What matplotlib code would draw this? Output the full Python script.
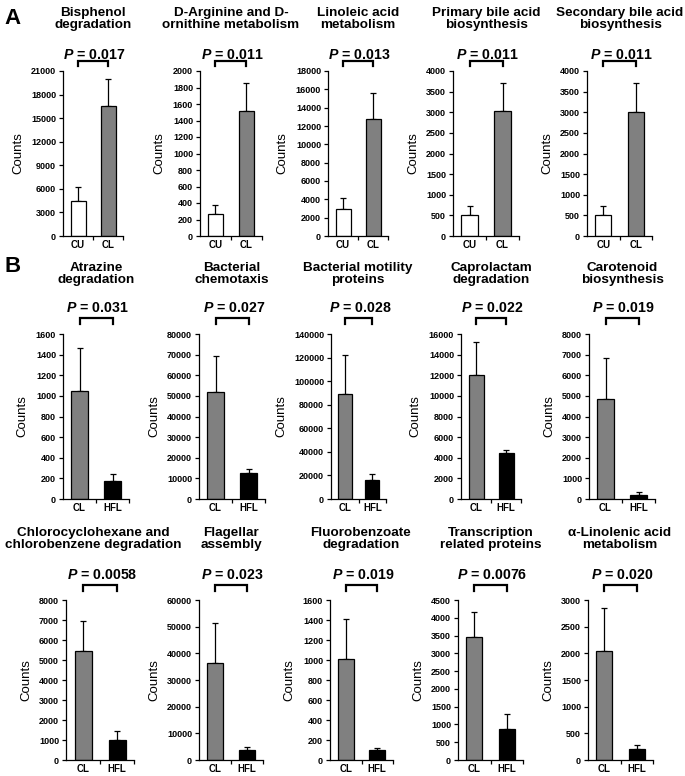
import numpy as np
import matplotlib
matplotlib.use('Agg')
import matplotlib.pyplot as plt
from matplotlib import rcParams
from matplotlib.transforms import blended_transform_factory

rcParams['font.family'] = 'Liberation Sans'
rcParams['mathtext.fontset'] = 'custom'
rcParams['mathtext.it'] = 'Liberation Sans:italic:bold'

# panel data, row by row (A, then the two B rows)
titles = ['Bisphenol\ndegradation', 'D-Arginine and D-\nornithine metabolism',
          'Linoleic acid\nmetabolism', 'Primary bile acid\nbiosynthesis',
          'Secondary bile acid\nbiosynthesis',
          'Atrazine\ndegradation', 'Bacterial\nchemotaxis', 'Bacterial motility\nproteins',
          'Caprolactam\ndegradation', 'Carotenoid\nbiosynthesis',
          'Chlorocyclohexane and\nchlorobenzene degradation', 'Flagellar\nassembly',
          'Fluorobenzoate\ndegradation', 'Transcription\nrelated proteins',
          'α-Linolenic acid\nmetabolism']
pvals = ['0.017', '0.011', '0.013', '0.011', '0.011',
         '0.031', '0.027', '0.028', '0.022', '0.019',
         '0.0058', '0.023', '0.019', '0.0076', '0.020']
groups_a = ['CU', 'CL']
groups_b = ['CL', 'HFL']
means = [[4500, 16500], [270, 1510], [3000, 12800], [520, 3020], [510, 3000],
         [1045, 170], [51800, 12500], [89000, 16500], [12000, 4450], [4850, 200],
         [5450, 1000], [36500, 3600], [1015, 100], [3460, 870], [2050, 200]]
errs = [[1800, 3500], [100, 350], [1150, 2750], [210, 700], [210, 700],
        [420, 70], [17400, 2000], [33000, 4500], [3200, 350], [1980, 130],
        [1500, 450], [14800, 1400], [400, 25], [690, 430], [800, 90]]
ymax = [21000, 2000, 18000, 4000, 4000,
        1600, 80000, 140000, 16000, 8000,
        8000, 60000, 1600, 4500, 3000]
ystep = [3000, 200, 2000, 500, 500,
         200, 10000, 20000, 2000, 1000,
         1000, 10000, 200, 500, 500]

colors_a = ['white', '#808080']
colors_b = ['#808080', 'black']

# layout in pixels
W, H = 685, 776
lefts = [63, 200, 328, 453, 587,
         63, 199, 331, 461, 589,
         66, 199, 330, 458, 588]
widths = [60, 62, 60, 66, 65,
          66, 66, 55, 60, 66,
          68, 64, 63, 65, 65]
# title centre x (px), mostly the axes centre
title_x = [93, 231, 358, 486, 620,
           96, 232, 358, 491, 622,
           93, 231, 361, 491, 620]
# top, bottom, title centre, P centre, bracket top, bracket leg end
rows = [(71, 236, 19, 55, 61, 66),
        (334, 499, 274, 308, 318, 324),
        (600, 760, 539, 575, 585, 591)]

fig = plt.figure(figsize=(W / 100, H / 100), dpi=100)

for i in range(15):
    top, bot, ty, py, bt, bl = rows[i // 5]
    ax = fig.add_axes([lefts[i] / W, 1 - bot / H, widths[i] / W, (bot - top) / H])
    if i < 5:
        grp, cols = groups_a, colors_a
    else:
        grp, cols = groups_b, colors_b
    x = np.arange(2)
    ax.bar(x, means[i], width=0.5, color=cols, edgecolor='black', linewidth=0.9, zorder=2)
    ax.errorbar(x, means[i], yerr=[[0, 0], errs[i]], fmt='none', ecolor='black',
                elinewidth=0.9, capsize=2.5, capthick=0.9, zorder=1)
    ax.set_xlim(-0.5, 1.5)
    ax.set_ylim(0, ymax[i])
    ax.set_yticks(np.arange(0, ymax[i] + 1, ystep[i]))
    ax.set_xticks(x)
    ax.set_xticklabels(grp, fontsize=7, fontweight='bold')
    ax.set_xticks([0.5, 1.5], minor=True)
    ax.tick_params(axis='x', which='major', length=0, pad=3)
    ax.tick_params(axis='x', which='minor', length=3, width=0.9, direction='out')
    ax.tick_params(axis='y', length=3, width=0.9, direction='out', labelsize=6.5, pad=2)
    for lab in ax.get_yticklabels():
        lab.set_fontweight('bold')
    ax.spines['top'].set_visible(False)
    ax.spines['right'].set_visible(False)
    ax.spines['left'].set_linewidth(0.9)
    ax.spines['bottom'].set_linewidth(0.9)
    ax.set_ylabel('Counts', fontsize=9.5, labelpad=5)

    # title, p-value and bracket above the axes
    fig.text(title_x[i] / W, 1 - ty / H, titles[i], ha='center', va='center',
             fontsize=9.7, fontweight='bold', linespacing=1.1)
    tr_d = blended_transform_factory(ax.transData, fig.transFigure)
    fig.text(0.55, 1 - py / H, '$P$ = ' + pvals[i], transform=tr_d, ha='center',
             va='center', fontsize=10.2, fontweight='bold')
    ax.plot([0, 0, 1, 1], [1 - bl / H, 1 - bt / H, 1 - bt / H, 1 - bl / H],
            transform=tr_d, color='black', lw=1.6, clip_on=False,
            solid_joinstyle='miter')

fig.text(4 / W, 1 - 18 / H, 'A', fontsize=16, fontweight='bold', va='center')
fig.text(4 / W, 1 - 266 / H, 'B', fontsize=16, fontweight='bold', va='center')

fig.savefig('out.png', dpi=100)
